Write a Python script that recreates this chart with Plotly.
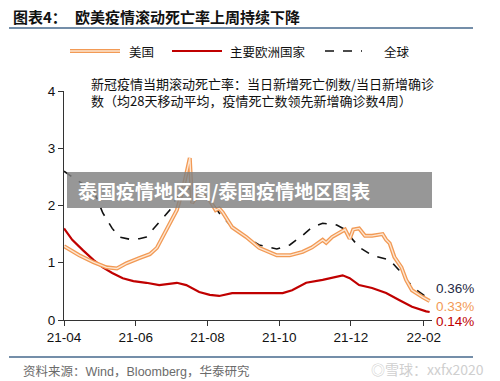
import plotly.graph_objects as go

# ---------------- data ----------------
global_dates = ["2021-04-01", "2021-04-12", "2021-04-26", "2021-05-04", "2021-05-12", "2021-05-18",
                "2021-05-27", "2021-06-04", "2021-06-10", "2021-06-21", "2021-06-30", "2021-07-06",
                "2021-07-14", "2021-07-25", "2021-07-31", "2021-08-05", "2021-08-11", "2021-08-22",
                "2021-09-03", "2021-09-14", "2021-09-29", "2021-10-10", "2021-10-21", "2021-10-29",
                "2021-11-07", "2021-11-19", "2021-11-27", "2021-12-02", "2021-12-08", "2021-12-19",
                "2022-01-03", "2022-01-11", "2022-01-17", "2022-01-26", "2022-02-06"]
global_vals = [2.60, 2.44, 2.27, 1.87, 1.60, 1.45,
               1.41, 1.42, 1.45, 1.71, 1.92, 2.15,
               2.30, 2.28, 2.15, 2.05, 1.87, 1.62,
               1.45, 1.31, 1.24, 1.31, 1.48, 1.62,
               1.69, 1.66, 1.57, 1.42, 1.27, 1.13,
               1.05, 0.87, 0.70, 0.52, 0.36]

us_dates = ["2021-04-01", "2021-04-14", "2021-04-26", "2021-05-07", "2021-05-16", "2021-05-24",
            "2021-06-04", "2021-06-13", "2021-06-19", "2021-06-24", "2021-06-30", "2021-07-06",
            "2021-07-11", "2021-07-15", "2021-07-17", "2021-07-19", "2021-07-25", "2021-08-03",
            "2021-08-08", "2021-08-11", "2021-08-14", "2021-08-22", "2021-09-03", "2021-09-14",
            "2021-09-29", "2021-10-10", "2021-10-21", "2021-10-29", "2021-11-07", "2021-11-10",
            "2021-11-15", "2021-11-21", "2021-11-26", "2021-11-30", "2021-12-03", "2021-12-08",
            "2021-12-13", "2021-12-19", "2021-12-28", "2021-12-31", "2022-01-03", "2022-01-07",
            "2022-01-13", "2022-01-17", "2022-01-22", "2022-01-31", "2022-02-06"]
us_vals = [1.29, 1.13, 1.01, 0.92, 0.90, 0.99,
           1.08, 1.15, 1.26, 1.45, 1.69, 1.92,
           2.27, 2.62, 2.83, 2.04, 2.22, 2.09,
           1.92, 1.95, 1.88, 1.62, 1.45, 1.26,
           1.13, 1.13, 1.19, 1.27, 1.40, 1.35,
           1.45, 1.52, 1.58, 1.42, 1.58, 1.60,
           1.47, 1.47, 1.50, 1.40, 1.34, 1.10,
           0.92, 0.70, 0.52, 0.40, 0.33]

eu_dates = ["2021-04-01", "2021-04-08", "2021-04-17", "2021-04-26", "2021-05-04", "2021-05-12",
            "2021-05-21", "2021-05-30", "2021-06-10", "2021-06-21", "2021-07-06", "2021-07-14",
            "2021-07-25", "2021-08-03", "2021-08-11", "2021-08-22", "2021-09-06", "2021-09-20",
            "2021-10-04", "2021-10-12", "2021-10-24", "2021-11-07", "2021-11-19", "2021-11-24",
            "2021-11-30", "2021-12-08", "2021-12-19", "2021-12-31", "2022-01-11", "2022-01-22",
            "2022-02-03", "2022-02-06"]
eu_vals = [1.60, 1.40, 1.22, 1.05, 0.92, 0.82,
           0.73, 0.68, 0.65, 0.61, 0.65, 0.61,
           0.49, 0.44, 0.42, 0.47, 0.47, 0.47,
           0.47, 0.52, 0.65, 0.70, 0.75, 0.78,
           0.73, 0.61, 0.56, 0.47, 0.35, 0.23,
           0.15, 0.14]

end_labels = ["0.36%", "0.33%", "0.14%"]
tick_vals = ["2021-04-01", "2021-06-01", "2021-08-01", "2021-10-01", "2021-12-01", "2022-02-01"]
tick_text = ["21-04", "21-06", "21-08", "21-10", "21-12", "22-02"]
y_ticks = [0, 1, 2, 3, 4]

# ---------------- geometry helpers ----------------
W, H = 500, 381
L, R, T, B = 64, 432, 91, 320  # plot area in pixels


def px(x):
    return (x - L) / (R - L)


def py(y):
    return (B - y) / (B - T)


ORANGE = "#F29A55"
ORANGE_IN = "#FDE6D2"
RED = "#C00000"
NAVY = "#1F2A44"
CJK = "Noto Sans CJK SC"
LAT = "Liberation Sans, Arial"

fig = go.Figure()
fig.add_trace(go.Scatter(x=global_dates, y=global_vals, mode="lines",
                         line=dict(color="#111111", width=1.6, dash="dash"), hoverinfo="skip"))
fig.add_trace(go.Scatter(x=eu_dates, y=eu_vals, mode="lines",
                         line=dict(color=RED, width=2.2), hoverinfo="skip"))
fig.add_trace(go.Scatter(x=us_dates, y=us_vals, mode="lines",
                         line=dict(color=ORANGE, width=4), hoverinfo="skip"))
fig.add_trace(go.Scatter(x=us_dates, y=us_vals, mode="lines",
                         line=dict(color=ORANGE_IN, width=1.4), hoverinfo="skip"))

shapes = []
annotations = []

# title and rule lines
annotations.append(dict(text="<b>图表4：</b>", x=px(11), y=py(17), xref="paper", yref="paper",
                        xanchor="left", yanchor="middle", showarrow=False,
                        font=dict(family=CJK, size=15, color="#111")))
annotations.append(dict(text="<b>欧美疫情滚动死亡率上周持续下降</b>", x=px(73), y=py(17), xref="paper", yref="paper",
                        xanchor="left", yanchor="middle", showarrow=False,
                        font=dict(family=CJK, size=15, color="#111")))
for yy in (28, 357):
    shapes.append(dict(type="line", xref="paper", yref="paper", x0=px(9), x1=px(473), y0=py(yy), y1=py(yy),
                       line=dict(color="#46688C", width=1.6)))

# legend
shapes.append(dict(type="line", xref="paper", yref="paper", x0=px(70), x1=px(120), y0=py(51), y1=py(51),
                   line=dict(color=ORANGE, width=4)))
shapes.append(dict(type="line", xref="paper", yref="paper", x0=px(70), x1=px(120), y0=py(51), y1=py(51),
                   line=dict(color=ORANGE_IN, width=1.4)))
shapes.append(dict(type="line", xref="paper", yref="paper", x0=px(172), x1=px(222), y0=py(51), y1=py(51),
                   line=dict(color=RED, width=2.2)))
shapes.append(dict(type="line", xref="paper", yref="paper", x0=px(325), x1=px(362), y0=py(51), y1=py(51),
                   line=dict(color="#111", width=1.6, dash="dash")))
for txt, xx in (("美国", 127), ("主要欧洲国家", 228), ("全球", 382)):
    annotations.append(dict(text=txt, x=px(xx), y=py(51), xref="paper", yref="paper",
                            xanchor="left", yanchor="middle", showarrow=False,
                            font=dict(family=CJK, size=12.5, color="#111")))

# description text (two lines in one block)
annotations.append(dict(text="新冠疫情当期滚动死亡率：当日新增死亡例数/当日新增确诊<br>"
                             "数（均28天移动平均，疫情死亡数领先新增确诊数4周）",
                        x=px(89), y=py(92.5), align="left",
                        xref="paper", yref="paper", xanchor="left", yanchor="middle", showarrow=False,
                        font=dict(family=CJK, size=13, color="#111")))

# end labels
for txt, yy, col in zip(end_labels, (288, 306, 321), (NAVY, ORANGE, RED)):
    annotations.append(dict(text=txt, x=px(434), y=py(yy), xref="paper", yref="paper",
                            xanchor="left", yanchor="middle", showarrow=False,
                            font=dict(family=LAT, size=13.5, color=col)))

# source and watermark
annotations.append(dict(text="资料来源：<span style='font-family:Liberation Sans'>Wind</span>，"
                             "<span style='font-family:Liberation Sans'>Bloomberg</span>，华泰研究",
                        x=px(21), y=py(370), xref="paper", yref="paper", xanchor="left", yanchor="middle",
                        showarrow=False, font=dict(family=CJK, size=12.5, color="#6b6b6b")))
annotations.append(dict(text="◎雪球：xxfx2020", x=px(486), y=py(369), xref="paper", yref="paper",
                        xanchor="right", yanchor="middle", showarrow=False,
                        font=dict(family=CJK, size=14, color="#cfcfcf")))

# grey overlay banner
shapes.append(dict(type="rect", xref="paper", yref="paper", x0=px(67), x1=px(432), y0=py(208), y1=py(172),
                   fillcolor="rgba(128,128,128,0.82)", line=dict(width=0), layer="above"))
annotations.append(dict(text="<b>泰国疫情地区图/泰国疫情地区图表</b>", x=px(76), y=py(190), xref="paper", yref="paper",
                        xanchor="left", yanchor="middle", showarrow=False,
                        font=dict(family=CJK, size=19, color="white")))

fig.update_layout(
    width=W, height=H, autosize=False,
    margin=dict(l=L, r=W - R, t=T, b=H - B, pad=0),
    paper_bgcolor="white", plot_bgcolor="white",
    showlegend=False,
    shapes=shapes, annotations=annotations,
    xaxis=dict(range=["2021-04-01", "2022-02-08"], tickvals=tick_vals, ticktext=tick_text,
               showgrid=False, zeroline=False, showline=True, linecolor="#333", linewidth=1,
               ticks="outside", ticklen=5, tickcolor="#333",
               tickfont=dict(family=LAT, size=13.5, color="#111")),
    yaxis=dict(range=[0, 4], tickvals=y_ticks, ticksuffix="%",
               showgrid=False, zeroline=False, showline=True, linecolor="#333", linewidth=1,
               ticks="outside", ticklen=5, tickcolor="#333",
               tickfont=dict(family=LAT, size=13.5, color="#111")),
)

fig.write_html("out.html")
